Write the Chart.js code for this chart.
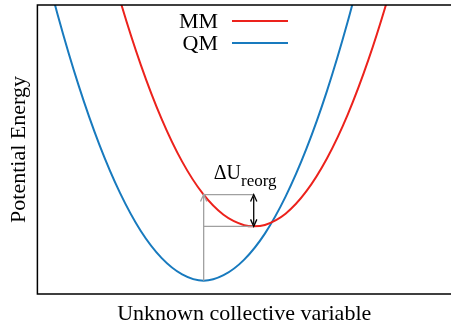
<!DOCTYPE html>
<html>
<head>
<meta charset="utf-8">
<script src="https://cdn.jsdelivr.net/npm/chart.js@4.4.0/dist/chart.umd.min.js"></script>
<style>
  body { margin: 0; background: #fff; }
</style>
</head>
<body>
<canvas id="pesChart" width="451" height="327"></canvas>
<script>
// values (x and energy both in 0..1 plot units)
const mmX = [0.15, 0.20, 0.25, 0.30, 0.35, 0.40, 0.45, 0.50, 0.523, 0.55, 0.60, 0.65, 0.70, 0.75, 0.80, 0.85, 0.90];
const mmEnergy = [1.277, 1.016, 0.793, 0.607, 0.458, 0.347, 0.274, 0.238, 0.234, 0.239, 0.278, 0.355, 0.469, 0.620, 0.809, 1.036, 1.300];
const qmX = [0.00, 0.05, 0.10, 0.15, 0.20, 0.25, 0.30, 0.35, 0.402, 0.45, 0.50, 0.55, 0.60, 0.65, 0.70, 0.75, 0.80];
const qmEnergy = [1.239, 0.961, 0.720, 0.516, 0.349, 0.218, 0.125, 0.068, 0.046, 0.065, 0.119, 0.209, 0.337, 0.501, 0.702, 0.941, 1.215];

// reorganisation energy marker: x of QM min / MM min, energy of QM min, MM min, MM at QM min
const reorgX = [0.402, 0.523];
const reorgY = [0.046, 0.234, 0.344];

const RED = 'rgb(236, 34, 28)';
const BLUE = 'rgb(24, 122, 190)';
const SERIF = '"Liberation Serif", "Times New Roman", serif';

const toPts = (xs, ys) => xs.map((x, i) => ({ x: x, y: ys[i] }));

function arrowHead(ctx, x, y, dir, size) {
  // dir = -1 points up, +1 points down
  ctx.beginPath();
  ctx.moveTo(x - size * 0.45, y - dir * size);
  ctx.lineTo(x, y);
  ctx.lineTo(x + size * 0.45, y - dir * size);
  ctx.stroke();
}

const extras = {
  id: 'extras',
  afterDatasetsDraw(chart) {
    const { ctx, chartArea: a, scales: { x, y } } = chart;
    const xq = x.getPixelForValue(reorgX[0]);
    const xm = x.getPixelForValue(reorgX[1]);
    const yLow = y.getPixelForValue(reorgY[0]);
    const yMid = y.getPixelForValue(reorgY[1]);
    const yTop = y.getPixelForValue(reorgY[2]);

    ctx.save();
    // gray guide lines
    ctx.strokeStyle = '#a0a0a0';
    ctx.lineWidth = 1.3;
    ctx.beginPath();
    ctx.moveTo(xq, yLow);
    ctx.lineTo(xq, yTop);
    ctx.moveTo(xq, yTop);
    ctx.lineTo(xm, yTop);
    ctx.moveTo(xq, yMid);
    ctx.lineTo(xm, yMid);
    ctx.stroke();
    arrowHead(ctx, xq, yTop, -1, 7);

    // black double arrow
    ctx.strokeStyle = '#000';
    ctx.lineWidth = 1.3;
    ctx.beginPath();
    ctx.moveTo(xm, yTop + 2);
    ctx.lineTo(xm, yMid - 2);
    ctx.stroke();
    arrowHead(ctx, xm, yTop, -1, 7);
    arrowHead(ctx, xm, yMid, 1, 7);

    // label
    ctx.fillStyle = '#000';
    ctx.textBaseline = 'alphabetic';
    ctx.textAlign = 'left';
    ctx.font = '20px ' + SERIF;
    const lx = xq + 10;
    ctx.fillText('ΔU', lx, yTop - 16);
    const w = ctx.measureText('ΔU').width;
    ctx.font = '17px ' + SERIF;
    ctx.fillText('reorg', lx + w, yTop - 9);

    // legend (text left of line)
    ctx.font = '22px ' + SERIF;
    ctx.textAlign = 'right';
    ctx.textBaseline = 'middle';
    ctx.lineWidth = 2;
    chart.data.datasets.slice(0, 2).forEach((ds, i) => {
      const ly = a.top + 16 + i * 22;
      ctx.fillText(ds.label, 218, ly + 1);
      ctx.strokeStyle = ds.borderColor;
      ctx.beginPath();
      ctx.moveTo(232, ly);
      ctx.lineTo(288, ly);
      ctx.stroke();
    });

    // frame
    ctx.strokeStyle = '#000';
    ctx.lineWidth = 1.5;
    ctx.beginPath();
    ctx.moveTo(a.right + 2, a.top);
    ctx.lineTo(a.left, a.top);
    ctx.lineTo(a.left, a.bottom);
    ctx.lineTo(a.right + 2, a.bottom);
    ctx.stroke();
    ctx.restore();
  }
};

new Chart(document.getElementById('pesChart'), {
  type: 'line',
  data: {
    datasets: [{
      label: 'MM',
      data: toPts(mmX, mmEnergy),
      borderColor: RED,
      borderWidth: 2,
      pointRadius: 0,
      cubicInterpolationMode: 'monotone'
    }, {
      label: 'QM',
      data: toPts(qmX, qmEnergy),
      borderColor: BLUE,
      borderWidth: 2,
      pointRadius: 0,
      cubicInterpolationMode: 'monotone'
    }]
  },
  options: {
    responsive: false,
    animation: false,
    devicePixelRatio: 1,
    layout: { padding: { top: 5, right: 0, left: 0, bottom: 0 } },
    plugins: {
      legend: { display: false },
      tooltip: { enabled: false }
    },
    scales: {
      x: {
        type: 'linear',
        min: 0,
        max: 1,
        grid: { display: false, drawTicks: false },
        border: { display: false },
        ticks: { display: false },
        title: {
          display: true,
          text: 'Unknown collective variable',
          color: '#000',
          font: { family: SERIF, size: 22, lineHeight: 1 },
          padding: { top: 9, bottom: 2 }
        }
      },
      y: {
        min: 0,
        max: 1,
        grid: { display: false, drawTicks: false },
        border: { display: false },
        ticks: { display: false },
        title: {
          display: true,
          text: 'Potential Energy',
          color: '#000',
          font: { family: SERIF, size: 22 },
          padding: { top: 6, bottom: 5 }
        }
      }
    }
  },
  plugins: [extras]
});
</script>
</body>
</html>
